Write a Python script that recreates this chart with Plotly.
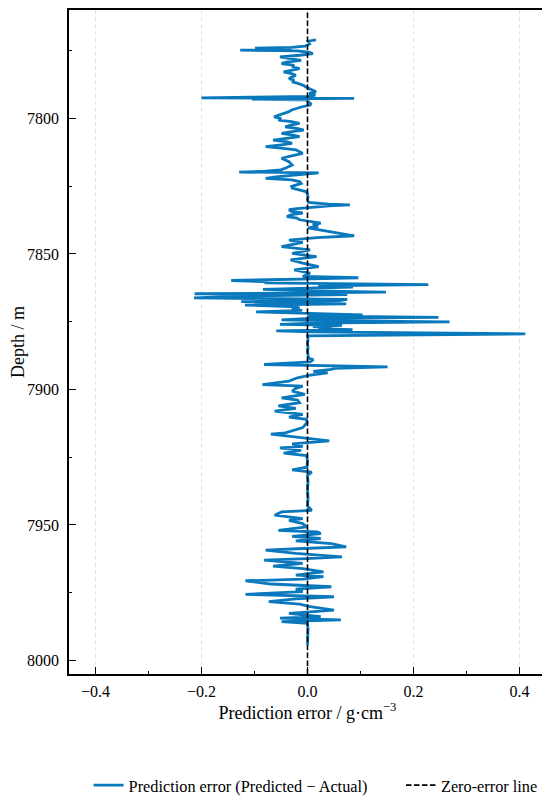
import plotly.graph_objects as go

# Data
# -------------------------------------------------------------------------
depth = [
    7771.0, 7771.5, 7772.5, 7773.3, 7773.8, 7774.1, 7774.4, 7774.8, 7775.1, 7775.5,
    7776.1, 7776.7, 7777.3, 7778.0, 7778.6, 7779.2, 7779.8, 7780.4, 7781.0, 7781.6,
    7782.2, 7782.8, 7783.5, 7784.1, 7784.7, 7785.3, 7785.9, 7786.5, 7787.1, 7787.7,
    7788.4, 7789.0, 7789.6, 7790.2, 7790.8, 7791.4, 7791.9, 7792.2, 7792.4, 7792.6,
    7792.9, 7793.2, 7793.9, 7794.5, 7795.1, 7795.7, 7796.3, 7796.9, 7797.5, 7798.2,
    7798.8, 7799.4, 7800.0, 7800.6, 7801.2, 7801.8, 7802.4, 7803.1, 7803.7, 7804.3,
    7804.9, 7805.5, 7806.1, 7806.7, 7807.4, 7808.0, 7808.6, 7809.2, 7809.8, 7810.4,
    7811.0, 7811.6, 7812.3, 7812.9, 7813.8, 7814.7, 7816.0, 7817.2, 7818.2, 7819.0,
    7819.5, 7819.8, 7820.1, 7820.5, 7821.0, 7821.6, 7822.1, 7822.7, 7823.3, 7824.0,
    7824.5, 7825.1, 7825.7, 7826.3, 7827.0, 7828.0, 7829.0, 7830.0, 7831.0, 7831.6,
    7831.9, 7832.3, 7832.8, 7833.3, 7833.7, 7834.3, 7834.9, 7835.5, 7836.2, 7836.8,
    7837.4, 7838.0, 7838.6, 7839.2, 7839.8, 7840.4, 7841.0, 7841.8, 7842.4, 7843.3,
    7844.0, 7844.9, 7845.7, 7846.5, 7847.3, 7848.5, 7849.8, 7851.0, 7852.2, 7853.4,
    7854.7, 7855.9, 7857.1, 7858.3, 7858.8, 7859.2, 7859.8, 7860.3, 7860.7, 7861.3,
    7861.8, 7862.2, 7862.6, 7863.1, 7863.6, 7864.1, 7864.4, 7864.7, 7865.0, 7865.5,
    7866.2, 7866.8, 7867.2, 7867.6, 7868.4, 7868.9, 7869.4, 7869.9, 7870.4, 7870.8,
    7871.4, 7871.9, 7872.5, 7872.9, 7873.4, 7873.8, 7874.3, 7874.6, 7875.1, 7875.5,
    7876.0, 7876.4, 7876.8, 7877.2, 7877.6, 7877.9, 7878.4, 7878.8, 7879.5, 7880.2,
    7881.5, 7883.0, 7884.5, 7886.0, 7887.5, 7888.5, 7889.0, 7889.8, 7890.8, 7891.3,
    7891.7, 7892.2, 7892.6, 7893.3, 7893.9, 7894.7, 7895.7, 7896.9, 7898.2, 7898.8,
    7899.6, 7900.6, 7901.8, 7903.1, 7903.9, 7904.9, 7906.1, 7907.0, 7908.0, 7909.2,
    7910.2, 7911.0, 7912.3, 7914.1, 7916.0, 7916.5, 7917.8, 7919.0, 7920.1, 7921.0,
    7921.6, 7922.5, 7923.5, 7924.4, 7926.2, 7928.7, 7929.7, 7930.5, 7931.7, 7934.0,
    7937.0, 7940.0, 7943.0, 7944.6, 7945.2, 7946.4, 7947.7, 7948.3, 7949.5, 7950.7,
    7952.0, 7952.6, 7953.2, 7954.2, 7955.0, 7955.9, 7956.9, 7958.1, 7958.7, 7959.3,
    7960.5, 7961.8, 7962.4, 7963.0, 7964.2, 7965.2, 7966.1, 7967.3, 7968.5, 7969.1,
    7970.0, 7970.6, 7971.8, 7972.8, 7973.7, 7974.6, 7975.6, 7976.5, 7977.3, 7978.3,
    7979.2, 7980.1, 7981.4, 7982.6, 7983.2, 7983.8, 7984.4, 7985.0, 7985.7, 7986.3,
    7988.5, 7991.0, 7994.2,
]
error = [
    0.016, 0.001, 0.004, -0.004, -0.030, -0.099, -0.030, -0.127, -0.020, 0.002,
    0.010, -0.015, -0.052, -0.030, -0.012, -0.040, -0.049, -0.025, -0.029, -0.015,
    -0.030, -0.045, -0.030, -0.022, -0.030, -0.035, -0.025, -0.029, -0.018, -0.009,
    -0.003, 0.005, 0.010, 0.016, 0.003, 0.015, 0.002, -0.105, -0.200, 0.088,
    -0.105, 0.002, 0.001, 0.006, 0.005, -0.010, -0.020, -0.030, -0.035, -0.045,
    -0.055, -0.063, -0.050, -0.055, -0.030, -0.015, -0.030, -0.042, -0.020, -0.007,
    -0.030, -0.049, -0.030, -0.015, -0.040, -0.065, -0.040, -0.029, -0.050, -0.079,
    -0.050, -0.022, -0.015, -0.009, -0.030, -0.049, -0.035, -0.029, -0.040, -0.050,
    -0.079, -0.129, 0.021, -0.010, -0.030, -0.060, -0.079, -0.030, -0.015, -0.012,
    -0.020, -0.030, -0.029, -0.015, -0.003, 0.000, 0.001, 0.000, 0.002, 0.040,
    0.080, 0.041, 0.002, -0.020, -0.035, -0.030, -0.009, -0.030, -0.039, -0.020,
    -0.015, 0.010, 0.025, 0.010, 0.020, 0.001, 0.018, 0.045, 0.058, 0.088,
    0.018, -0.035, -0.009, -0.030, -0.049, 0.005, -0.029, 0.017, -0.032, -0.009,
    0.021, -0.025, 0.005, -0.009, 0.096, 0.010, -0.144, -0.075, -0.081, 0.228,
    0.020, 0.086, 0.005, -0.084, 0.010, 0.148, 0.000, -0.213, 0.075, -0.115,
    -0.214, 0.075, 0.060, -0.125, 0.073, -0.118, -0.030, -0.015, -0.030, -0.010,
    -0.097, -0.005, 0.104, 0.000, 0.247, 0.005, -0.049, 0.030, 0.268, 0.010,
    -0.052, 0.065, 0.010, 0.045, 0.020, 0.085, -0.059, 0.010, 0.411, 0.000,
    0.001, 0.000, 0.001, 0.000, 0.001, 0.002, 0.011, 0.005, -0.082, 0.018,
    0.151, 0.051, 0.045, 0.011, 0.038, 0.005, -0.019, -0.035, -0.085, -0.009,
    -0.022, -0.029, -0.005, -0.049, -0.019, -0.015, -0.055, -0.022, -0.062, -0.009,
    -0.035, -0.002, -0.001, -0.009, -0.042, -0.069, -0.009, 0.041, -0.029, -0.009,
    -0.052, -0.012, -0.045, -0.002, 0.000, -0.001, -0.029, 0.008, 0.000, 0.001,
    0.000, 0.001, 0.000, 0.008, -0.049, -0.062, -0.009, -0.035, -0.009, -0.002,
    -0.055, 0.018, 0.025, -0.029, 0.025, -0.022, 0.045, 0.073, -0.009, -0.079,
    -0.022, 0.065, -0.002, -0.082, -0.009, -0.065, -0.009, 0.030, -0.022, 0.030,
    -0.009, -0.117, -0.069, 0.045, -0.022, -0.009, -0.117, 0.050, -0.022, -0.073,
    -0.015, 0.005, 0.050, -0.035, -0.009, 0.025, -0.052, 0.063, -0.049, 0.000,
    0.001, 0.000, 0.000,
]

# axis limits (depth axis reversed)
depth_range = [8005, 7760]
error_range = [-0.45, 0.45]
x_ticks = [-0.4, -0.2, 0.0, 0.2, 0.4]
y_ticks = [7800, 7850, 7900, 7950, 8000]

font_family = 'Liberation Serif'

# Traces
# -------------------------------------------------------------------------
# trailing no-break spaces widen the gap between the two legend entries
err_line = go.Scatter(
    x=error,
    y=depth,
    mode='lines',
    name='Prediction error (Predicted \u2212 Actual)' + '\u00a0' * 7,
    line=dict(color='#0a78bd', width=2.8),
)
zero_line = go.Scatter(
    x=[0, 0],
    y=depth_range,
    mode='lines',
    name='Zero-error line',
    line=dict(color='black', width=1.6, dash='5.5px,2.5px'),
)

# Layout
# -------------------------------------------------------------------------
# the page body adds an 8px offset, so the figure is 8px smaller than the window
axis_common = dict(
    showline=True, linecolor='black', linewidth=1.5, mirror=True,
    ticks='inside', ticklen=7, tickwidth=1.3, tickcolor='black',
    zeroline=False,
    tickfont=dict(family=font_family, size=16, color='black'),
)

layout = go.Layout(
    width=542, height=798,
    paper_bgcolor='white', plot_bgcolor='white',
    margin=dict(l=61, r=4, t=0, b=132),
    font=dict(family=font_family, color='black'),
    xaxis=dict(
        range=error_range,
        tickvals=x_ticks,
        tickformat='.1f',
        showgrid=True, gridcolor='#e3e3e3', gridwidth=0.8, griddash='4px,3px',
        minor=dict(ticks='inside', dtick=0.1, tick0=0, ticklen=3.5,
                   tickwidth=1, tickcolor='black', showgrid=False),
        title=dict(text='Prediction error / g\u00b7cm<sup>\u22123</sup>',
                   font=dict(family=font_family, size=18), standoff=6),
        ticklabelstandoff=2,
        **axis_common,
    ),
    yaxis=dict(
        range=depth_range,
        tickvals=y_ticks,
        showgrid=False,
        minor=dict(ticks='inside', dtick=25, tick0=7775, ticklen=3.5,
                   tickwidth=1, tickcolor='black', showgrid=False),
        title=dict(text='Depth / m', font=dict(family=font_family, size=18),
                   standoff=4),
        ticklabelstandoff=5,
        **axis_common,
    ),
    showlegend=True,
    legend=dict(orientation='h', x=0.517, xanchor='center', y=-0.168,
                yanchor='middle',
                font=dict(family=font_family, size=16.3, color='black')),
)

fig = go.Figure(data=[err_line, zero_line], layout=layout)
fig.write_html("out.html")
